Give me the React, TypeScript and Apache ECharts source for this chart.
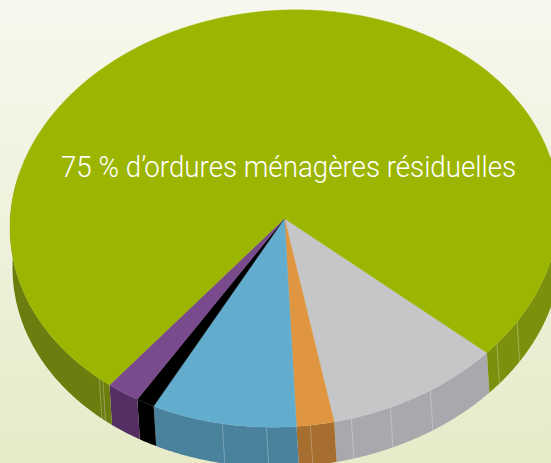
import React, { useEffect, useRef } from "react";
import * as echarts from "echarts";

const categories = ["Gris", "Orange", "Bleu", "Noir", "Violet", "Ordures ménagères résiduelles"];
const shares = [10.3, 2.2, 8.6, 1.1, 2.0, 75.8];
const topColors = ["#c4c6c8", "#e09640", "#62acce", "#000000", "#794a8c", "#9cb500"];
const wallColors = ["#a8a9ac", "#a66e2f", "#4a819c", "#000000", "#552f63", "#6a7d0e"];
const seamAngles = [32.1, 39.3, 57.9, 67.3, 75.9, 84.6, 93.8, 103.1, 131.4, 132.4];
const labelText = "75 % d’ordures ménagères résiduelles";

const FIRST = 42.5;
const CX = 284.5;
const CY = 218.5;
const RX = 274.5;
const RY = 208.5;
const SHEAR = 0.033;
const DX = 2.5;
const DY = 40;

const rad = (d: number) => (d * Math.PI) / 180;
const pt = (t: number, ox = 0, oy = 0): [number, number] => {
  const c = RX * Math.cos(rad(t));
  return [CX + ox + c, CY + oy + RY * Math.sin(rad(t)) - SHEAR * c];
};
const arc = (a: number, b: number, ox = 0, oy = 0) => {
  const n = Math.max(2, Math.ceil(Math.abs(b - a) * 2));
  const out: [number, number][] = [];
  for (let i = 0; i <= n; i++) out.push(pt(a + ((b - a) * i) / n, ox, oy));
  return out;
};

let acc = FIRST;
const ranges = shares.map((v, i) => {
  const s = acc;
  acc += (v / 100) * 360;
  return { name: categories[i], value: [s, acc, i] };
});

const clipVisible = (s: number, e: number) => {
  const parts: [number, number][] = [];
  for (const k of [-360, 0, 360]) {
    const a = Math.max(s + k, -15);
    const b = Math.min(e + k, 195);
    if (b > a) parts.push([a, b]);
  }
  return parts;
};

export default function App() {
  const ref = useRef<HTMLDivElement>(null);
  useEffect(() => {
    document.body.style.margin = "0";
    document.body.style.overflow = "hidden";
    const chart = echarts.init(ref.current!, null, { renderer: "svg" });
    chart.setOption({
      animation: false,
      backgroundColor: {
        type: "linear",
        x: 0,
        y: 0,
        x2: 0,
        y2: 1,
        colorStops: [
          { offset: 0, color: "#f7f8ee" },
          { offset: 1, color: "#e7ebc9" },
        ],
      },
      graphic: [
        {
          type: "text",
          x: 61,
          y: 182,
          scaleX: 0.94,
          z: 10,
          style: {
            text: labelText,
            fill: "#ffffff",
            font: "300 29.5px Roboto, sans-serif",
            textVerticalAlign: "bottom",
          },
        },
      ],
      series: [
        {
          type: "custom",
          coordinateSystem: "none",
          z: 1,
          silent: true,
          data: ranges,
          renderItem: (_p: any, api: any) => {
            const idx = api.value(2);
            const children = clipVisible(api.value(0), api.value(1)).map(([a, b]) => ({
              type: "polygon",
              shape: { points: [...arc(a, b), ...arc(b, a, DX, DY)] },
              style: {
                fill: idx === 5 && a < 90 ? "#7b910d" : wallColors[idx],
              },
            }));
            return { type: "group", children };
          },
        },
        {
          type: "custom",
          coordinateSystem: "none",
          z: 2,
          silent: true,
          data: seamAngles.map((t) => [t]),
          renderItem: (_p: any, api: any) => {
            const t = api.value(0);
            const [x1, y1] = pt(t);
            const [x2, y2] = pt(t, DX, DY);
            return {
              type: "line",
              shape: { x1, y1, x2, y2 },
              style: { stroke: "rgba(255,255,255,0.28)", lineWidth: 1 },
            };
          },
        },
        {
          type: "custom",
          coordinateSystem: "none",
          z: 3,
          silent: true,
          data: ranges,
          renderItem: (_p: any, api: any) => {
            const idx = api.value(2);
            return {
              type: "polygon",
              shape: { points: [[CX, CY], ...arc(api.value(0), api.value(1))] },
              style: { fill: topColors[idx], stroke: topColors[idx], lineWidth: 0.4 },
            };
          },
        },
      ],
    });
    return () => chart.dispose();
  }, []);
  return <div ref={ref} style={{ position: "absolute", left: 0, top: 0, width: 551, height: 463 }} />;
}
